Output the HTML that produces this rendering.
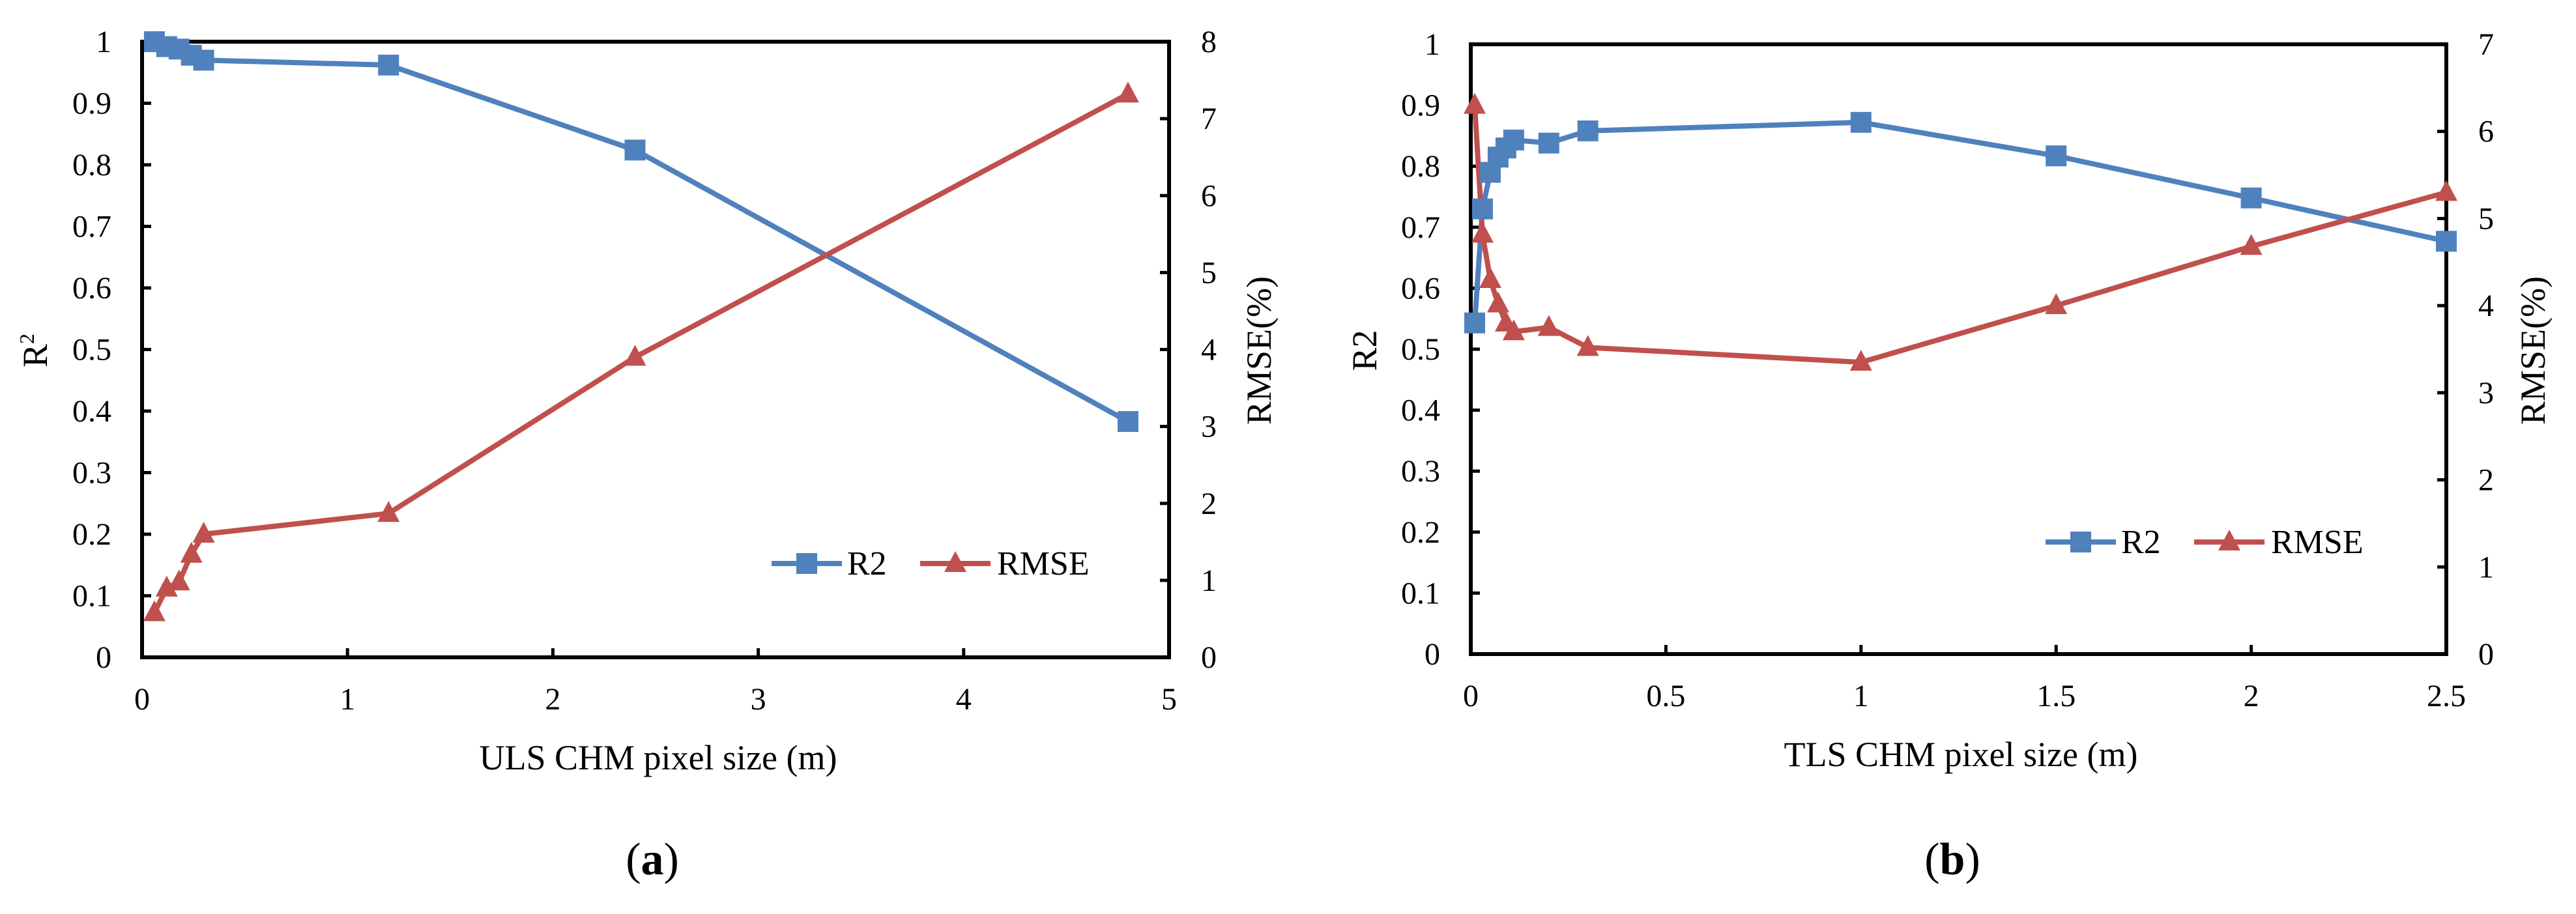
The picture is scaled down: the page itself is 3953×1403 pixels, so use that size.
<!DOCTYPE html>
<html><head><meta charset="utf-8">
<style>
html,body{margin:0;padding:0;background:#fff;}
svg, svg text{font-family:"Liberation Serif","DejaVu Serif",serif;}
</style></head>
<body>
<svg id="fig" width="3953" height="1398" viewBox="0 0 3953 1398" xmlns="http://www.w3.org/2000/svg" font-family="Liberation Serif, serif"></svg>
<script>
// Panel (a) data
const aX = [0.06, 0.12, 0.18, 0.24, 0.3, 1.2, 2.4, 4.8];
const aR2 = [1.0, 0.992, 0.988, 0.978, 0.97, 0.962, 0.824, 0.383];
const aRMSE = [0.58, 0.9, 0.98, 1.34, 1.6, 1.87, 3.9, 7.32];
const aXTicks = ["0","1","2","3","4","5"];
const aYTicks = ["0","0.1","0.2","0.3","0.4","0.5","0.6","0.7","0.8","0.9","1"];
const aY2Ticks = ["0","1","2","3","4","5","6","7","8"];
// Panel (b) data
const bX = [0.01, 0.03, 0.05, 0.07, 0.09, 0.11, 0.2, 0.3, 1, 1.5, 2, 2.5];
const bR2 = [0.543, 0.73, 0.79, 0.815, 0.83, 0.843, 0.838, 0.858, 0.872, 0.817, 0.748, 0.677];
const bRMSE = [6.3, 4.82, 4.3, 4.02, 3.8, 3.7, 3.75, 3.52, 3.35, 4.0, 4.68, 5.3];
const bXTicks = ["0","0.5","1","1.5","2","2.5"];
const bYTicks = ["0","0.1","0.2","0.3","0.4","0.5","0.6","0.7","0.8","0.9","1"];
const bY2Ticks = ["0","1","2","3","4","5","6","7"];

const NS = "http://www.w3.org/2000/svg";
const svg = document.getElementById("fig");
const BLUE = "#4f81bd", RED = "#c0504d";
function mk(tag, attrs, parent, text){
  const e = document.createElementNS(NS, tag);
  for (const k in attrs) e.setAttribute(k, attrs[k]);
  if (text !== undefined) e.textContent = text;
  (parent||svg).appendChild(e);
  return e;
}
function panel(p){
  const g = mk("g", {});
  
  
  const xmax = p.xmax, y2max = p.y2max;
  const sx = v => p.L + (v / xmax) * (p.R - p.L);
  const sy = v => p.B - v * (p.B - p.T);
  const sy2 = v => p.B - (v / y2max) * (p.B - p.T);
  p.yTicks.forEach((t)=>{
    const v = parseFloat(t); const y = sy(v);
    const tk = mk("line",{x1:p.L,x2:p.L+14,y1:y,y2:y,stroke:"#000","stroke-width":5},g);
    
    
    const tx = mk("text",{x:p.L-47,y:y+16,"text-anchor":"end","font-size":48},g,t);
    
    
  });
  p.y2Ticks.forEach((t)=>{
    const v = parseFloat(t); const y = sy2(v);
    const tk = mk("line",{x1:p.R-14,x2:p.R,y1:y,y2:y,stroke:"#000","stroke-width":5},g);
    
    
    const tx = mk("text",{x:p.R+49,y:y+16,"text-anchor":"start","font-size":48},g,t);
    
    
  });
  p.xTicks.forEach((t)=>{
    const v = parseFloat(t); const x = sx(v);
    const tk = mk("line",{x1:x,x2:x,y1:p.B-14,y2:p.B,stroke:"#000","stroke-width":5},g);
    
    
    const tx = mk("text",{x:x,y:p.B+80,"text-anchor":"middle","font-size":48},g,t);
    
    
  });
  const box = mk("rect",{x:p.L,y:p.T,width:p.R-p.L,height:p.B-p.T,fill:"none",stroke:"#000","stroke-width":6},g);
  
  
  const r2pts = p.x.map((v,i)=>sx(v)+","+sy(p.r2[i])).join(" ");
  const rmpts = p.x.map((v,i)=>sx(v)+","+sy2(p.rmse[i])).join(" ");
  const l1 = mk("polyline",{points:r2pts,fill:"none",stroke:BLUE,"stroke-width":8,"stroke-linejoin":"round"},g);
  
  
  const l2 = mk("polyline",{points:rmpts,fill:"none",stroke:RED,"stroke-width":8,"stroke-linejoin":"round"},g);
  
  
  p.x.forEach((v,i)=>{
    const x = sx(v), y = sy(p.r2[i]);
    const m = mk("rect",{x:x-16,y:y-16,width:32,height:32,fill:BLUE},g);
    
    
  });
  p.x.forEach((v,i)=>{
    const x = sx(v), y = sy2(p.rmse[i]);
    const m = mk("polygon",{points:`${x},${y-19} ${x-17},${y+13} ${x+17},${y+13}`,fill:RED},g);
    
    
  });
  const xt = mk("text",{x:p.xtX,y:p.B+172,"text-anchor":"middle","font-size":54},g,p.xTitle);
  
  
  const yt = mk("text",{x:0,y:0,"text-anchor":"middle","font-size":54,transform:`translate(${p.ytX},538) rotate(-90)`},g);
  
  
  if (p.sup){ yt.innerHTML = 'R<tspan font-size="32" dy="-20">2</tspan>'; }
  else yt.textContent = "R2";
  const y2t = mk("text",{x:0,y:0,"text-anchor":"middle","font-size":54,transform:`translate(${p.y2tX},538) rotate(-90)`},g,"RMSE(%)");
  
  
  const lg = mk("g",{},g);
  
  
  const ly = p.legY;
  mk("line",{x1:p.legX,x2:p.legX+108,y1:ly,y2:ly,stroke:BLUE,"stroke-width":8},lg);
  mk("rect",{x:p.legX+38,y:ly-16,width:32,height:32,fill:BLUE},lg);
  const t1 = mk("text",{x:p.legX+116,y:ly+17,"font-size":52},lg,"R2");
  
  
  const o = p.legX+228;
  mk("line",{x1:o,x2:o+108,y1:ly,y2:ly,stroke:RED,"stroke-width":8},lg);
  mk("polygon",{points:`${o+54},${ly-19} ${o+37},${ly+13} ${o+71},${ly+13}`,fill:RED},lg);
  const t2 = mk("text",{x:o+118,y:ly+17,"font-size":52},lg,"RMSE");
  
  
  const cap = mk("text",{x:p.capX,y:1342,"text-anchor":"middle","font-size":70},g);
  
  
  cap.innerHTML = `(<tspan font-weight="bold">${p.id}</tspan>)`;
}
panel({id:"a",L:218,R:1794,T:64,B:1009,xmax:5,y2max:8,x:aX,r2:aR2,rmse:aRMSE,
  xTicks:aXTicks,yTicks:aYTicks,y2Ticks:aY2Ticks,xTitle:"ULS CHM pixel size (m)",xtX:1010,
  ytX:72,y2tX:1950,sup:true,legX:1184,legY:865,capX:1001});
panel({id:"b",L:2257,R:3754,T:68,B:1004,xmax:2.5,y2max:7,x:bX,r2:bR2,rmse:bRMSE,
  xTicks:bXTicks,yTicks:bYTicks,y2Ticks:bY2Ticks,xTitle:"TLS CHM pixel size (m)",xtX:3009,
  ytX:2112,y2tX:3905,sup:false,legX:3139,legY:832,capX:2996});
</script>
</body></html>
